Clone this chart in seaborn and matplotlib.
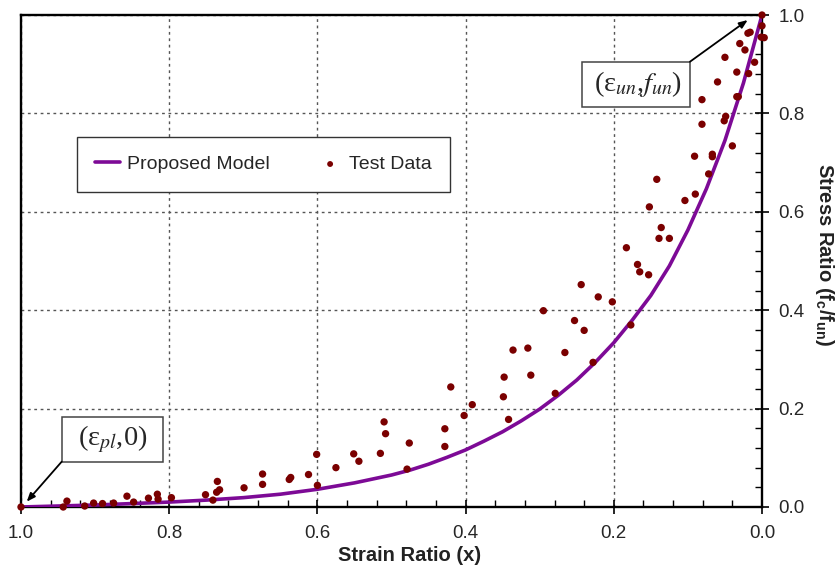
import matplotlib
matplotlib.use("Agg")
import matplotlib.pyplot as plt
from matplotlib.patches import Rectangle
from matplotlib.ticker import MultipleLocator
import seaborn as sns
import pandas as pd

# Proposed model curve (strain ratio vs stress ratio)
model_x = [1.0, 0.95, 0.9, 0.85, 0.8, 0.75, 0.7, 0.65, 0.6, 0.55, 0.5,
           0.475, 0.45, 0.425, 0.4, 0.375, 0.35, 0.325, 0.3, 0.275, 0.25,
           0.225, 0.2, 0.175, 0.15, 0.125, 0.1, 0.075, 0.05, 0.025, 0.0]
model_y = [0.0, 0.002, 0.004, 0.007, 0.010, 0.014, 0.019, 0.026, 0.036, 0.049,
           0.065, 0.075, 0.087, 0.101, 0.116, 0.134, 0.153, 0.175, 0.199,
           0.227, 0.258, 0.294, 0.334, 0.380, 0.430, 0.490, 0.563, 0.647,
           0.745, 0.862, 1.0]

# Test data
test_x = [1.0, 0.943, 0.938, 0.914, 0.902, 0.890, 0.875, 0.857, 0.848, 0.828,
          0.816, 0.815, 0.797, 0.751, 0.741, 0.735, 0.736, 0.732, 0.699, 0.674,
          0.674, 0.638, 0.636, 0.612, 0.601, 0.600, 0.575, 0.551, 0.544, 0.515,
          0.510, 0.508, 0.479, 0.476, 0.428, 0.428, 0.420, 0.402, 0.391, 0.349,
          0.348, 0.342, 0.336, 0.316, 0.312, 0.295, 0.279, 0.266, 0.253, 0.244,
          0.240, 0.228, 0.221, 0.202, 0.183, 0.177, 0.168, 0.165, 0.153, 0.152,
          0.142, 0.139, 0.136, 0.125, 0.104, 0.090, 0.091, 0.072, 0.067, 0.067,
          0.040, 0.0, 0.0, 0.001, -0.003, 0.019, 0.016, 0.030, 0.023, 0.050,
          0.010, 0.034, 0.018, 0.060, 0.034, 0.032, 0.081, 0.049, 0.051, 0.081]
test_y = [0.0, 0.0, 0.012, 0.002, 0.008, 0.007, 0.008, 0.022, 0.010, 0.018,
          0.026, 0.016, 0.019, 0.025, 0.014, 0.052, 0.030, 0.035, 0.039, 0.067,
          0.046, 0.056, 0.060, 0.066, 0.107, 0.044, 0.080, 0.108, 0.093, 0.109,
          0.173, 0.149, 0.077, 0.130, 0.159, 0.123, 0.244, 0.186, 0.208, 0.224,
          0.264, 0.178, 0.319, 0.323, 0.268, 0.399, 0.231, 0.314, 0.379, 0.452,
          0.359, 0.294, 0.427, 0.417, 0.527, 0.370, 0.493, 0.478, 0.472, 0.610,
          0.666, 0.546, 0.568, 0.546, 0.623, 0.636, 0.713, 0.677, 0.717, 0.712,
          0.734, 1.0, 0.978, 0.955, 0.954, 0.963, 0.965, 0.942, 0.929, 0.914,
          0.904, 0.884, 0.881, 0.864, 0.834, 0.834, 0.828, 0.794, 0.785, 0.778]

x_ticks = [1.0, 0.8, 0.6, 0.4, 0.2, 0.0]
y_ticks = [0.0, 0.2, 0.4, 0.6, 0.8, 1.0]

model_df = pd.DataFrame({"x": model_x, "y": model_y})
test_df = pd.DataFrame({"x": test_x, "y": test_y})

sns.set_style("white")
plt.rcParams["font.family"] = ["Liberation Sans", "DejaVu Sans"]
plt.rcParams["mathtext.fontset"] = "stix"
plt.rcParams["mathtext.default"] = "regular"

purple = "#7d0a96"
maroon = "#7a0000"

fig = plt.figure(figsize=(8.37, 5.72), dpi=100)
ax = fig.add_axes([0.02509, 0.11364, 0.8853, 0.8601])

sns.lineplot(data=model_df, x="x", y="y", ax=ax, color=purple, linewidth=2.6,
             label="Proposed Model", estimator=None, sort=False, zorder=3)
sns.scatterplot(data=test_df, x="x", y="y", ax=ax, color=maroon, s=28,
                edgecolor="none", label="Test Data", zorder=4)
for coll in ax.collections:
    coll.set_clip_on(False)

ax.set_xlim(1.0, 0.0)
ax.set_ylim(0.0, 1.0)
ax.set_xticks(x_ticks)
ax.set_yticks(y_ticks)
ax.set_xticklabels([f"{v:.1f}" for v in x_ticks])
ax.set_yticklabels([f"{v:.1f}" for v in y_ticks])
ax.xaxis.set_minor_locator(MultipleLocator(0.04))
ax.yaxis.set_minor_locator(MultipleLocator(0.04))

ax.yaxis.tick_right()
ax.yaxis.set_label_position("right")
ax.tick_params(which="major", direction="inout", length=10, width=1.2,
               labelsize=13.5, color="black")
ax.tick_params(axis="x", which="major", pad=8)
ax.tick_params(axis="y", which="major", pad=7)
ax.tick_params(which="minor", direction="in", length=5, width=1.0,
               color="black")
ax.tick_params(axis="y", which="both", left=False, right=True)
ax.tick_params(axis="x", which="both", top=False, bottom=True)

for sp in ax.spines.values():
    sp.set_visible(True)
    sp.set_color("black")
    sp.set_linewidth(1.7)

ax.grid(True, which="major", color="#555555", linestyle=(0, (2, 2.6)),
        linewidth=1.0)
ax.set_axisbelow(True)

ax.set_xlabel("Strain Ratio (x)", fontsize=14.5, fontweight="bold",
              color="#222222")
ax.xaxis.set_label_coords(0.525, -0.098)
ax.xaxis.label.set_va("center")
ax.set_ylabel("Stress Ratio (f$_c$/f$_{un}$)", fontsize=14.5,
              fontweight="bold", color="#222222", rotation=270)
ax.yaxis.set_label_coords(1.085, 0.513)
ax.yaxis.label.set_va("center")
ax.yaxis.label.set_ha("center")

leg = ax.legend(loc="upper left", bbox_to_anchor=(0.0756, 0.752),
                borderaxespad=0, ncol=2, fontsize=14, frameon=True,
                fancybox=False, edgecolor="#333333", framealpha=1,
                handlelength=1.25, handletextpad=0.35, columnspacing=2.5,
                borderpad=0.95, markerscale=0.8)
leg.get_frame().set_linewidth(1.0)

# Labelled end points with boxes and arrows
boxes = [
    dict(x0=0.0549, y0=0.0921, x1=0.192, y1=0.1835, tx=0.1235, ty=0.138,
         text="(ε$_{\\mathit{pl}}$,0)", tail=(0.0549, 0.0921),
         head=(0.0077, 0.0108)),
    dict(x0=0.7567, y0=0.8136, x1=0.9028, y1=0.9051, tx=0.8327, ty=0.860,
         text="(ε$_{\\mathit{un}}$,$\\mathit{f}_{\\mathit{un}}$)",
         tail=(0.9028, 0.9051), head=(0.9807, 0.9898)),
]
for b in boxes:
    ax.add_patch(Rectangle((b["x0"], b["y0"]), b["x1"] - b["x0"],
                           b["y1"] - b["y0"], transform=ax.transAxes,
                           facecolor="white", edgecolor="#444444",
                           linewidth=1.1, zorder=5))
    ax.text(b["tx"], b["ty"], b["text"], transform=ax.transAxes,
            ha="center", va="center", fontsize=20.5,
            family=["Liberation Serif", "DejaVu Serif"], zorder=6)
    ax.annotate("", xy=b["head"], xytext=b["tail"], xycoords="axes fraction",
                textcoords="axes fraction",
                arrowprops=dict(arrowstyle="-|>,head_length=0.5,head_width=0.2",
                                color="black", lw=1.3, shrinkA=0, shrinkB=0),
                zorder=6)

fig.savefig("out.png", dpi=100)
